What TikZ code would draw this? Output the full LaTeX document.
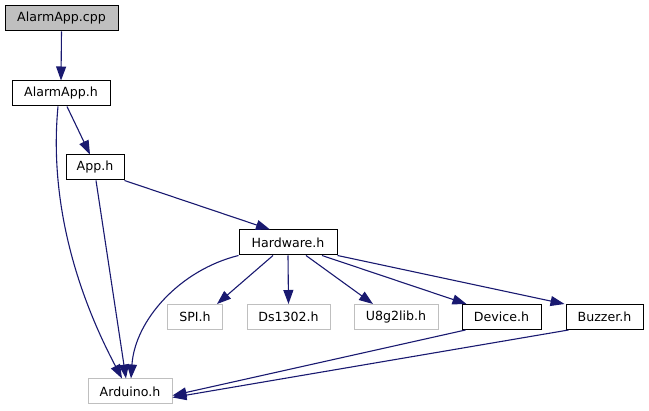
\documentclass[tikz,border=0pt]{standalone}
\usepackage{fontspec}
\setmainfont{DejaVu Sans}
\usetikzlibrary{arrows.meta}
\definecolor{edgeblue}{RGB}{25, 25, 112}
\definecolor{rootgray}{RGB}{191, 191, 191}
\definecolor{extgray}{RGB}{191, 191, 191}

\tikzset{
    filebox/.style={draw=black, line width=1pt, inner sep=0pt, minimum height=25pt,
        font=\fontsize{12.6}{14}\selectfont},
    extbox/.style={filebox, draw=extgray},
    dep/.style={-{Triangle[length=14pt, width=10pt]}, edgeblue, line width=1.1pt}
}

\begin{document}
\begin{tikzpicture}[x=1pt, y=-1pt]
    \useasboundingbox (0,0) rectangle (649,411);

    \node[filebox, fill=rootgray, minimum width=113pt] (alarmcpp) at (61.5,18.5) {AlarmApp.cpp};
    \node[filebox, minimum width=98pt] (alarmh) at (61,93.5) {AlarmApp.h};
    \node[filebox, minimum width=58pt] (apph) at (95,167.5) {App.h};
    \node[filebox, minimum width=98pt] (hardware) at (288,242.5) {Hardware.h};

    \node[extbox, minimum width=55pt] (spi) at (195,317) {SPI.h};
    \node[extbox, minimum width=83pt] (ds1302) at (288.5,317) {Ds1302.h};
    \node[extbox, minimum width=84pt] (u8g2) at (396,317) {U8g2lib.h};
    \node[filebox, minimum width=79pt] (device) at (501.5,317) {Device.h};
    \node[filebox, minimum width=77pt] (buzzer) at (604.5,317) {Buzzer.h};
    \node[extbox, minimum width=84pt] (arduino) at (130,391.5) {Arduino.h};

    % include edges
    \draw[dep] (alarmcpp.south) -- (alarmh.north);
    \draw[dep] ([xshift=6pt]alarmh.south) -- ([xshift=-5pt]apph.north);
    \draw[dep] ([xshift=-3pt]alarmh.south) .. controls (50,190) and (70,280) .. ([xshift=-8pt]arduino.north);
    \draw[dep] (apph.south east) -- ([xshift=-18pt]hardware.north);
    \draw[dep] ([xshift=1pt]apph.south) -- ([xshift=-4pt]arduino.north);
    \draw[dep] (hardware.south west) .. controls (180,270) and (135,320) .. ([xshift=1pt]arduino.north);

    \draw[dep] ([xshift=-15pt]hardware.south) -- ([xshift=-6pt]spi.north east);
    \draw[dep] (hardware.south) -- (ds1302.north);
    \draw[dep] ([xshift=18pt]hardware.south) -- ([xshift=-23pt]u8g2.north);
    \draw[dep] ([xshift=34pt]hardware.south) -- ([xshift=5pt]device.north west);
    \draw[dep] (hardware.south east) -- ([xshift=-1pt]buzzer.north west);

    \draw[dep] ([xshift=4pt]device.south west) -- ([yshift=-4pt]arduino.east);
    \draw[dep] ([xshift=3pt]buzzer.south west) -- ([yshift=-6pt]arduino.east);
\end{tikzpicture}
\end{document}
